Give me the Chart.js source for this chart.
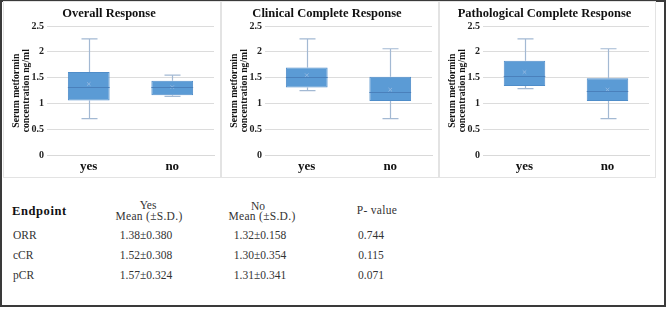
<!DOCTYPE html>
<html>
<head>
<meta charset="utf-8">
<script src="https://cdn.jsdelivr.net/npm/chart.js@4.4.1/dist/chart.umd.min.js"></script>
<style>
  body { margin: 0; background: #fff; }
  #frame { position: absolute; left: 0; top: 0; width: 666px; height: 307px; border: 2px solid #3a3a3a; box-sizing: border-box; }
  .panel { position: absolute; top: 1px; height: 177px; border: 1px solid #e3e3e3; box-sizing: border-box; }
  .panel canvas { position: absolute; left: 0; top: 0; }
  .t { position: absolute; font-family: "Liberation Serif", serif; font-size: 11.5px; color: #333; white-space: nowrap; }
  .c { transform: translateX(-50%); text-align: center; }
  .hd { font-weight: bold; font-size: 12.5px; letter-spacing: 0.6px; color: #111; }
  .mh { letter-spacing: 0.3px; }
</style>
</head>
<body>
<div id="frame"></div>
<div class="panel" style="left:3px;width:218px"><canvas id="c0" width="216" height="175"></canvas></div>
<div class="panel" style="left:221px;width:218px"><canvas id="c1" width="216" height="175"></canvas></div>
<div class="panel" style="left:439px;width:217px"><canvas id="c2" width="215" height="175"></canvas></div>
<div id="table"></div>
<script>
// chart data
const groups = ["yes", "no"];
const titles = ["Overall Response", "Clinical Complete Response", "Pathological Complete Response"];
const yTicks = [0, 0.5, 1, 1.5, 2, 2.5];

const whiskerLow = [[0.71, 1.14], [1.25, 0.71], [1.29, 0.71]];
const boxLow     = [[1.06, 1.16], [1.31, 1.05], [1.34, 1.05]];
const medians    = [[1.33, 1.33], [1.52, 1.23], [1.54, 1.24]];
const boxHigh    = [[1.61, 1.44], [1.70, 1.52], [1.83, 1.49]];
const whiskerHigh= [[2.25, 1.55], [2.25, 2.06], [2.25, 2.06]];
const means      = [[1.38, 1.32], [1.55, 1.27], [1.61, 1.27]];

// table text
const endpoints = ["ORR", "cCR", "pCR"];
const yesCol = ["1.38\u00b10.380", "1.52\u00b10.308", "1.57\u00b10.324"];
const noCol  = ["1.32\u00b10.158", "1.30\u00b10.354", "1.31\u00b10.341"];
const pValues = ["0.744", "0.115", "0.071"];

const boxBlue = "#5b9bd5";
const whiskerColor = "#a3b9d3";

const whiskerPlugin = {
    id: "whiskers",
    beforeDatasetsDraw(chart) {
        const idx = chart.options.plugins.whiskers.panel;
        const xs = chart.scales.x, ys = chart.scales.y;
        const ctx = chart.ctx;
        ctx.save();
        ctx.strokeStyle = whiskerColor;
        ctx.lineWidth = 1.2;
        groups.forEach((g, i) => {
            const x = Math.round(xs.getPixelForValue(i)) + 0.5;
            const lo = ys.getPixelForValue(whiskerLow[idx][i]);
            const hi = ys.getPixelForValue(whiskerHigh[idx][i]);
            ctx.beginPath();
            ctx.moveTo(x, hi); ctx.lineTo(x, ys.getPixelForValue(boxHigh[idx][i]));
            ctx.moveTo(x, lo); ctx.lineTo(x, ys.getPixelForValue(boxLow[idx][i]));
            ctx.moveTo(x - 8, hi); ctx.lineTo(x + 8, hi);
            ctx.moveTo(x - 8, lo); ctx.lineTo(x + 8, lo);
            ctx.stroke();
        });
        ctx.restore();
    },
    afterDatasetsDraw(chart) {
        const idx = chart.options.plugins.whiskers.panel;
        const ys = chart.scales.y;
        const meta = chart.getDatasetMeta(0);
        const ctx = chart.ctx;
        ctx.save();
        ctx.strokeStyle = "#4a80bb";
        ctx.lineWidth = 1;
        groups.forEach((g, i) => {
            const bar = meta.data[i];
            const half = bar.width / 2;
            const y = Math.round(ys.getPixelForValue(medians[idx][i])) + 0.5;
            ctx.beginPath();
            ctx.moveTo(bar.x - half, y); ctx.lineTo(bar.x + half, y);
            ctx.stroke();
        });
        ctx.restore();
    }
};

titles.forEach((title, p) => {
    new Chart(document.getElementById("c" + p), {
        type: "bar",
        data: {
            labels: groups,
            datasets: [
                {
                    data: groups.map((g, i) => [boxLow[p][i], boxHigh[p][i]]),
                    backgroundColor: boxBlue,
                    borderColor: "#4f8dc9",
                    borderWidth: 1,
                    borderSkipped: false,
                    categoryPercentage: 1,
                    barPercentage: 0.5,
                    order: 2
                },
                {
                    type: "line",
                    data: means[p],
                    showLine: false,
                    pointStyle: "crossRot",
                    pointRadius: 2.5,
                    borderColor: "#8fb6e0",
                    borderWidth: 1,
                    order: 1
                }
            ]
        },
        options: {
            responsive: false,
            animation: false,
            layout: { padding: { left: 0, right: 6, top: 0, bottom: 0 } },
            plugins: {
                legend: { display: false },
                tooltip: { enabled: false },
                whiskers: { panel: p },
                title: {
                    display: true,
                    text: title,
                    color: "#111",
                    font: { family: "Liberation Serif", size: 12.5, weight: "bold" },
                    padding: { top: 4, bottom: 5 }
                }
            },
            scales: {
                x: {
                    grid: { display: false, drawTicks: false },
                    border: { color: "#d9d9d9" },
                    ticks: {
                        color: "#111",
                        padding: 3,
                        font: { family: "Liberation Serif", size: 13, weight: "bold" }
                    }
                },
                y: {
                    min: 0,
                    max: 2.5,
                    afterBuildTicks: (scale) => { scale.ticks = yTicks.map((v) => ({ value: v })); },
                    afterFit: (scale) => { scale.width = 43; },
                    grid: { color: "#dcdcdc", drawTicks: false },
                    border: { display: false },
                    ticks: {
                        color: "#222",
                        padding: 3,
                        callback: (v) => String(v),
                        font: { family: "Liberation Serif", size: 10, weight: "bold" }
                    },
                    title: {
                        display: true,
                        text: ["Serum metformin", "concentration ng/ml"],
                        color: "#111",
                        padding: { top: 7, bottom: 0 },
                        font: { family: "Liberation Serif", size: 9.7, weight: "bold", lineHeight: 1.08 }
                    }
                }
            }
        },
        plugins: [whiskerPlugin]
    });
});

// table below the charts
function addText(txt, x, y, cls) {
    const d = document.createElement("div");
    d.className = "t " + (cls || "");
    d.textContent = txt;
    d.style.left = x + "px";
    d.style.top = (y - 7) + "px";
    document.getElementById("table").appendChild(d);
}
addText("Endpoint", 12, 211, "hd");
addText("Yes", 148, 206, "c");
addText("Mean (\u00b1S.D.)", 149, 217, "c mh");
addText("No", 258, 207, "c");
addText("Mean (\u00b1S.D.)", 262, 217, "c mh");
addText("P- value", 377, 211, "c mh");
const rowY = [236, 256, 276];
endpoints.forEach((e, i) => {
    addText(e, 13, rowY[i]);
    addText(yesCol[i], 146, rowY[i], "c");
    addText(noCol[i], 260, rowY[i], "c");
    addText(pValues[i], 371, rowY[i], "c");
});
</script>
</body>
</html>
